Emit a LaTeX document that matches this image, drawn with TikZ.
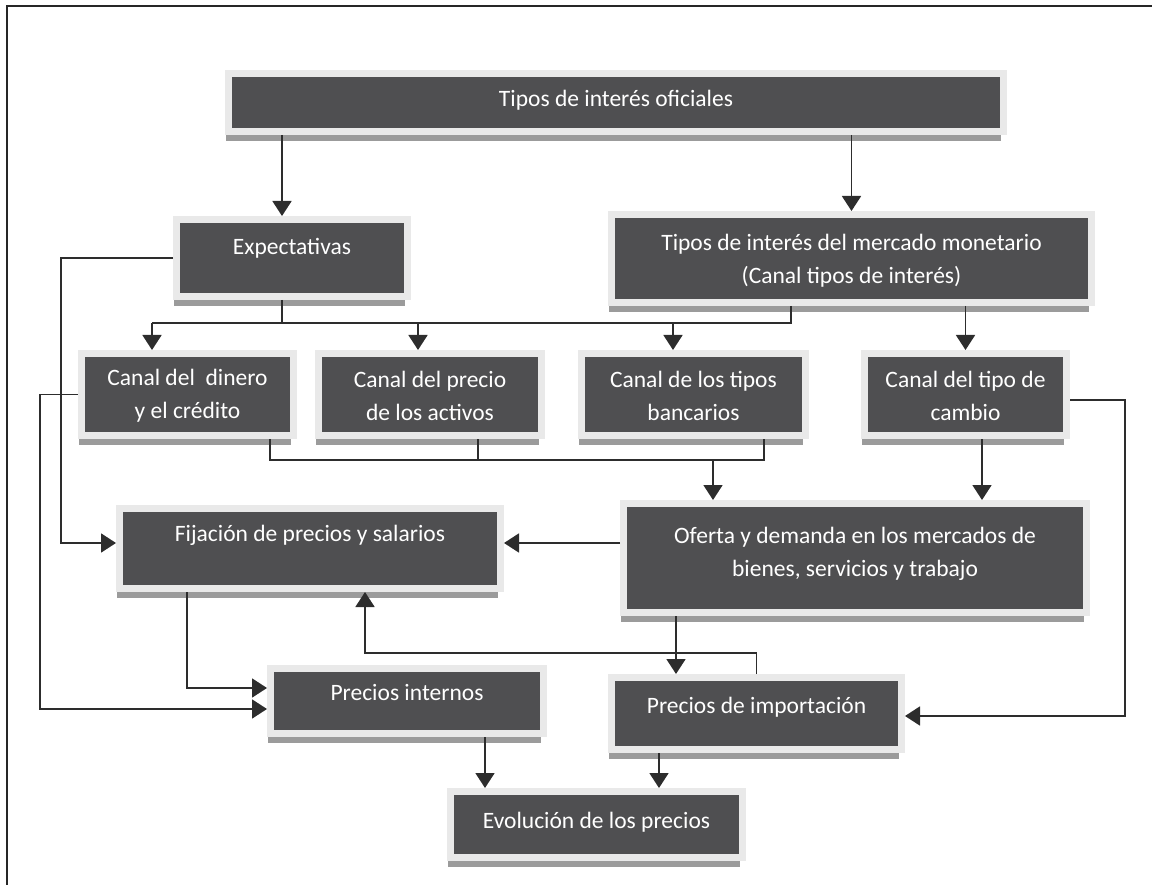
\documentclass[tikz,border=0pt]{standalone}
\usepackage{fontspec}
\setmainfont{Carlito}
\usetikzlibrary{arrows.meta,shadows}
\definecolor{boxdark}{RGB}{79,79,81}
\definecolor{boxframe}{RGB}{233,233,233}
\definecolor{boxshadow}{RGB}{155,155,155}
\definecolor{linecol}{RGB}{45,45,45}
\begin{document}
\begin{tikzpicture}[x=1pt,y=-1pt,
  box/.style={fill=boxdark, draw=boxframe, line width=7pt, inner sep=0pt,
    drop shadow={shadow xshift=-3pt, shadow yshift=-9.5pt, fill=boxshadow, opacity=1}},
  txt/.style={text=white, font=\fontsize{23.5}{33}\selectfont, align=center, inner sep=0pt},
  conn/.style={draw=linecol, line width=1.8pt},
  arr/.style={conn, -{Triangle[length=15pt,width=19pt]}}
]
\useasboundingbox (0,0) rectangle (1152,885);
\draw[line width=1.6pt, draw=black!85] (7,885) -- (7,6) -- (1152,6);

% boxes (size = dark area + frame)
\node[box, minimum width=775pt, minimum height=58pt] (A) at (616,102.5) {};
\node[box, minimum width=231pt, minimum height=77pt] (B) at (292,258) {};
\node[box, minimum width=480pt, minimum height=88pt] (C) at (851.5,258.5) {};
\node[box, minimum width=212pt, minimum height=82pt] (D1) at (187.5,394.5) {};
\node[box, minimum width=223pt, minimum height=82pt] (D2) at (430,394.5) {};
\node[box, minimum width=224pt, minimum height=82pt] (D3) at (693.5,394.5) {};
\node[box, minimum width=202pt, minimum height=82pt] (D4) at (965.5,394.5) {};
\node[box, minimum width=381pt, minimum height=80pt] (E) at (310,548.5) {};
\node[box, minimum width=463pt, minimum height=109pt] (F) at (855,558) {};
\node[box, minimum width=273pt, minimum height=65pt] (G) at (407,701) {};
\node[box, minimum width=290pt, minimum height=72pt] (H) at (756.5,713.5) {};
\node[box, minimum width=292pt, minimum height=66pt] (I) at (596.5,824.5) {};

% texts
\node[txt] (At) at (616,100) {Tipos de interés oficiales};
\node[txt] (Bt) at (292,248) {Expectativas};
\node[txt] (Ct) at (851.5,260.5) {Tipos de interés del mercado monetario\\(Canal tipos de interés)};
\node[txt] (D1t) at (187.5,396) {Canal del~ dinero\\y el crédito};
\node[txt] (D2t) at (430,396) {Canal del precio\\de los activos};
\node[txt] (D3t) at (693.5,396) {Canal de los tipos\\bancarios};
\node[txt] (D4t) at (965.5,396) {Canal del tipo de\\cambio};
\node[txt] (Et) at (310,535) {Fijación de precios y salarios};
\node[txt] (Ft) at (855,554) {Oferta y demanda en los mercados de\\bienes, servicios y trabajo};
\node[txt] (Gt) at (407,692) {Precios internos};
\node[txt] (Ht) at (756.5,707) {Precios de importación};
\node[txt] (It) at (596.5,822) {Evolución de los precios};

\coordinate (bus1) at (0,323);
\coordinate (bus2) at (0,460);

% connectors
\draw[arr] ([xshift=-10pt]B.north |- A.south) -- ([xshift=-10pt]B.north);
\draw[arr] (C.north |- A.south) -- (C.north);
\draw[arr] (B.west) -- ++(-112,0) |- ([yshift=5.5pt]E.west);
\draw[conn] ([xshift=-10pt]B.south) -- ([xshift=-10pt]B.south |- bus1);
\draw[conn] ([xshift=-60.5pt]C.south) -- ([xshift=-60.5pt]C.south |- bus1) -- ([xshift=-35.5pt]D1.north |- bus1);
\draw[arr] ([xshift=-35.5pt]D1.north |- bus1) -- ([xshift=-35.5pt]D1.north);
\draw[arr] ([xshift=-12pt]D2.north |- bus1) -- ([xshift=-12pt]D2.north);
\draw[arr] ([xshift=-20.5pt]D3.north |- bus1) -- ([xshift=-20.5pt]D3.north);
\draw[arr] (D4.north |- C.south) -- (D4.north);
\draw[arr] (D1.west) -- ++(-38,0) |- ([yshift=-8pt]G.west);
\draw[conn] ([xshift=82.5pt]D1.south) -- ([xshift=82.5pt]D1.south |- bus2) -- ([xshift=70.5pt]D3.south |- bus2) -- ([xshift=70.5pt]D3.south);
\draw[conn] ([xshift=48pt]D2.south) -- ([xshift=48pt]D2.south |- bus2);
\draw[arr] ([xshift=-142pt]F.north |- bus2) -- ([xshift=-142pt]F.north);
\draw[arr] ([xshift=16.5pt]D4.south) -- ([xshift=16.5pt]D4.south |- F.north);
\draw[arr] ([yshift=-5.5pt]D4.east) -- ++(55,0) |- ([yshift=-2.5pt]H.east);
\draw[arr] ([yshift=15pt]F.west) -- ([yshift=15pt]F.west -| E.east);
\draw[arr] ([xshift=-123pt]E.south) |- ([yshift=13pt]G.west);
\draw[arr] (H.north) -- ++(0,-21) -| ([xshift=55pt]E.south);
\draw[arr] ([xshift=-179pt]F.south) -- ([xshift=-179pt]F.south |- H.north);
\draw[arr] ([xshift=78pt]G.south) -- ([xshift=78pt]G.south |- I.north);
\draw[arr] ([xshift=-97.5pt]H.south) -- ([xshift=-97.5pt]H.south |- I.north);
\end{tikzpicture}
\end{document}
